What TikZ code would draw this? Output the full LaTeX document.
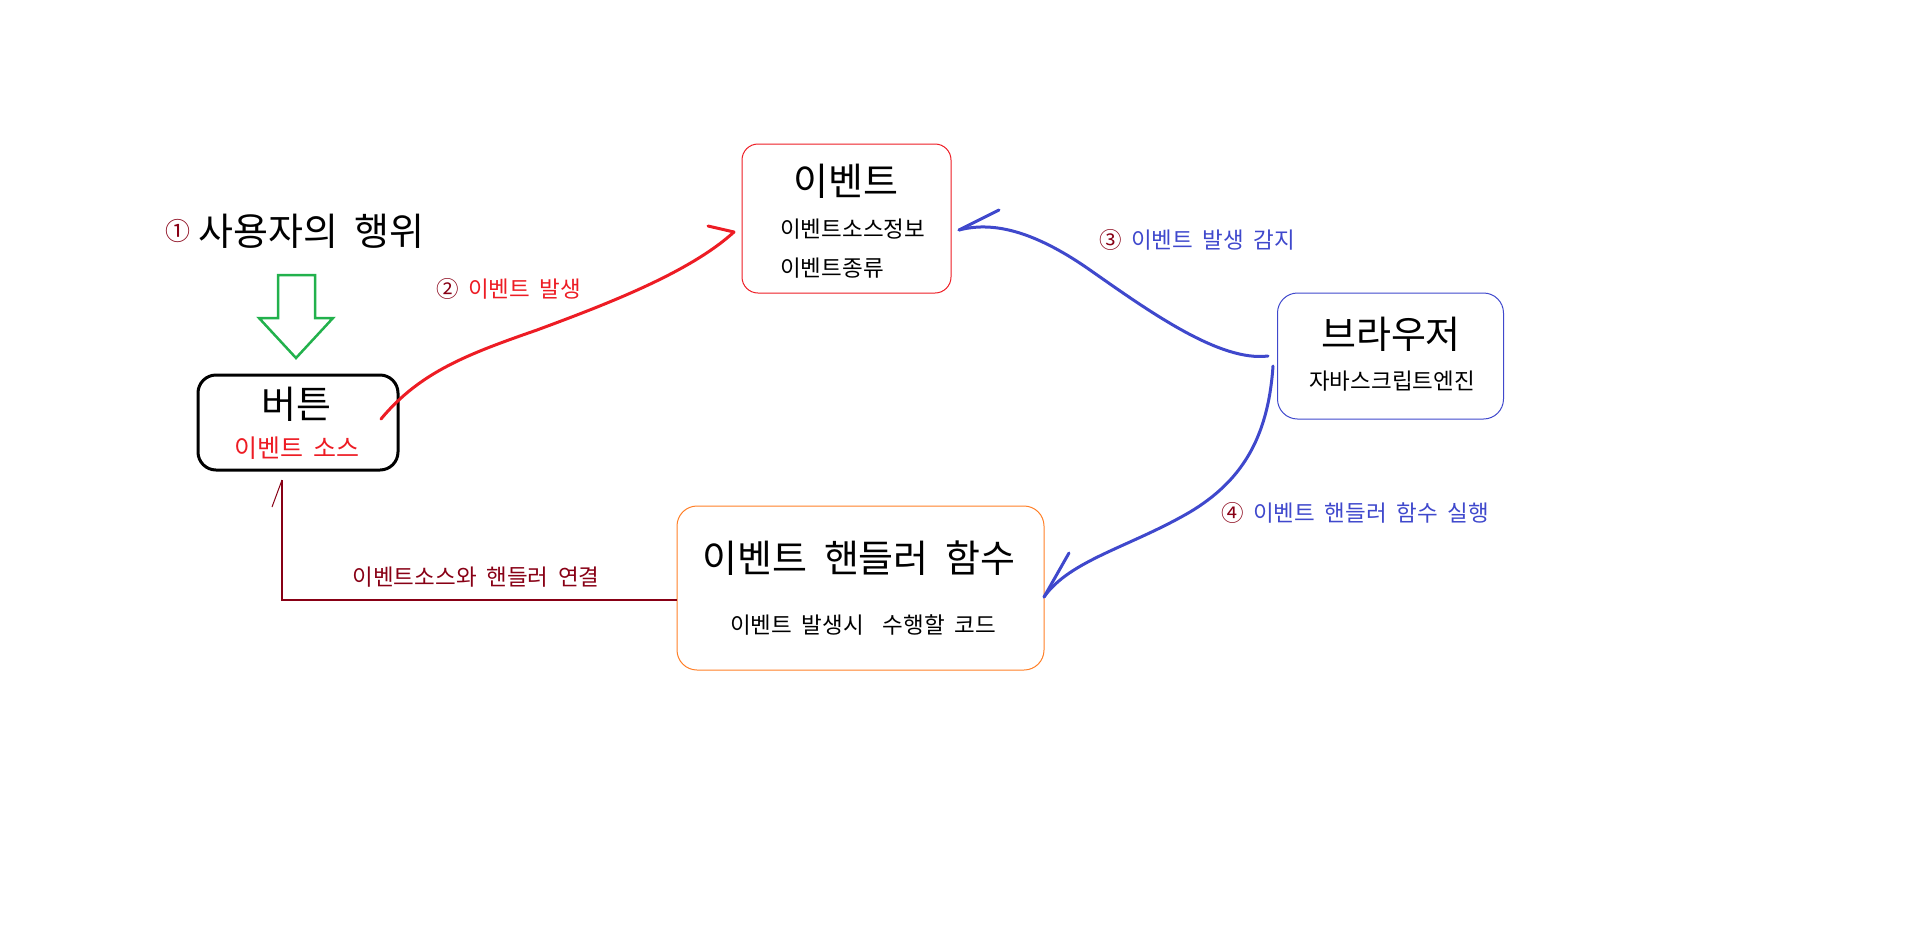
\documentclass[tikz,border=0pt]{standalone}
\usepackage{fontspec}
\setmainfont{Noto Sans CJK KR}[WordSpace=1.9]
\newcommand\setfs[1]{\fontsize{#1}{#1}\selectfont}
\definecolor{pred}{RGB}{237,28,36}
\definecolor{pblue}{RGB}{63,72,204}
\definecolor{pgreen}{RGB}{34,177,76}
\definecolor{porange}{RGB}{255,127,39}
\definecolor{pdark}{RGB}{136,0,21}
\tikzset{
  box/.style={draw=#1, rounded corners=16pt, line width=1pt, inner sep=0pt},
  txt/.style={inner sep=0pt, text depth=0pt},
  big/.style={txt, font=\setfs{38}},
  small/.style={txt, font=\setfs{22.5}},
  hand/.style={line width=3pt, line cap=round, line join=round},
}
\begin{document}
\begin{tikzpicture}[x=1pt,y=-1pt]
\useasboundingbox (0,0) rectangle (1915,930);
% title
\node[txt, anchor=west, font=\setfs{25}, text=pdark] (n1) at (165,230) {①};
\node[big, anchor=west] (act) at (198,230) {사용자의 행위};
% green arrow
\draw[pgreen, line width=2.5pt, line join=miter] (278,275) -- (315,275) -- (315,318) -- (333,318) -- (296,358) -- (259,318) -- (278,318) -- cycle;
% button
\node[box=black, line width=3pt, rounded corners=18pt, minimum width=200pt, minimum height=95pt] (btn) at (298,422.5) {};
\node[big] (btnt) at (296,403) {버튼};
\node[txt, font=\setfs{25}, text=pred] (btns) at (297,447) {이벤트 소스};
% event box
\node[box=pred, minimum width=209pt, minimum height=149pt] (ev) at (846.5,218.5) {};
\node[big] (evt) at (846,180) {이벤트};
\node[small, anchor=west] (ev1) at (780,228) {이벤트소스정보};
\node[small, anchor=west] (ev2) at (780,267) {이벤트종류};
% browser
\node[box=pblue, rounded corners=20pt, minimum width=226pt, minimum height=126pt] (br) at (1390.5,356) {};
\node[big] (brt) at (1391,333) {브라우저};
\node[small] (brs) at (1392,380) {자바스크립트엔진};
% handler
\node[box=porange, rounded corners=20pt, minimum width=367pt, minimum height=164pt] (hd) at (860.5,588) {};
\node[big] (hdt) at (859,557) {이벤트 핸들러 함수};
\node[small] (hds) at (863,624) {이벤트 발생시\ \ 수행할 코드};
% labels
\node[small, anchor=west] (l2) at (436,288) {\textcolor{pdark}{②} \textcolor{pred}{이벤트 발생}};
\node[small, anchor=west] (l3) at (1099,239) {\textcolor{pdark}{③} \textcolor{pblue}{이벤트 발생 감지}};
\node[small, anchor=west] (l4) at (1221,512) {\textcolor{pdark}{④} \textcolor{pblue}{이벤트 핸들러 함수 실행}};
\node[small, text=pdark] (l5) at (476,576) {이벤트소스와 핸들러 연결};
% connector coordinates
\coordinate (r0) at (381,419);
\coordinate (r1) at (734,232);
\coordinate (r1b) at (708,226);
\coordinate (b0) at (1268,356);
\coordinate (b1) at (959,230);
\coordinate (b1b) at (999,210);
\coordinate (c0) at (1273,366);
\coordinate (c1) at (1044,597);
\coordinate (c1b) at (1069,553);
\coordinate (d0) at (hd.west |- 0,600);
\coordinate (d1) at (282,600);
\coordinate (d2) at (282,480);
\coordinate (d2b) at (272,507);
% red connector
\draw[pred, hand] (r0) .. controls (420,372) and (468,354) .. (537,330) .. controls (610,303) and (690,272) .. (r1);
\draw[pred, hand] (r1b) -- (r1);
% blue connector 3
\draw[pblue, hand] (b0) .. controls (1220,362) and (1150,312) .. (1090,270) .. controls (1030,228) and (990,222) .. (b1);
\draw[pblue, hand] (b1b) -- (b1);
% blue connector 4
\draw[pblue, hand] (c0) .. controls (1268,440) and (1240,482) .. (1190,512) .. controls (1130,547) and (1070,560) .. (c1);
\draw[pblue, hand] (c1b) -- (c1);
% dark red connector
\draw[pdark, line width=1.2pt] (d0) -- (d1) -- (d2);
\draw[pdark, line width=1pt] (d2) -- (d2b);
\end{tikzpicture}
\end{document}
